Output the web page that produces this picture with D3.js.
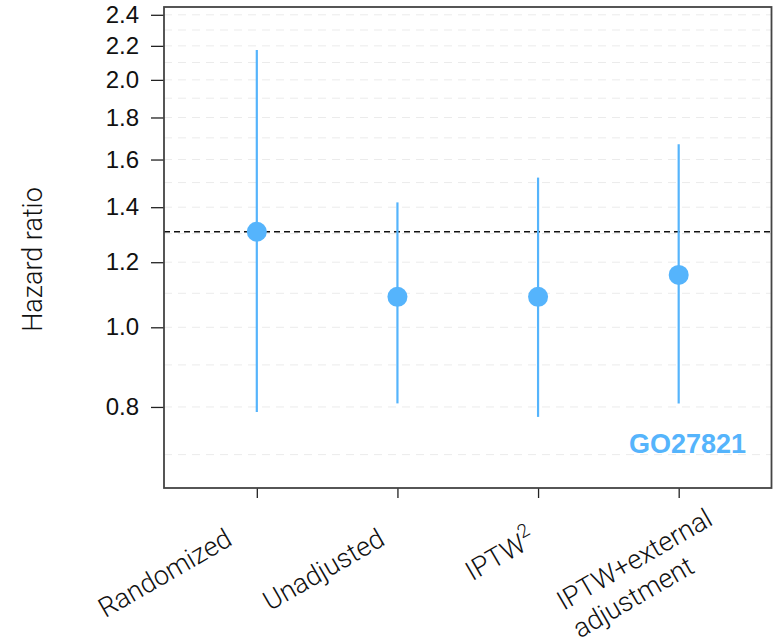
<!DOCTYPE html>
<html lang="en">
	<head>
		<meta charset="utf-8">
		<title>Hazard ratio by method</title>
		<script src="https://d3js.org/d3.v7.min.js"></script>
		<style type="text/css">
			body {
				margin: 0;
				background: #ffffff;
			}
			text {
				font-family: "Liberation Sans", Arial, sans-serif;
				fill: #111;
			}
			.cat-label, .axis-title {
				font-family: Roboto, "Liberation Sans", sans-serif;
				font-weight: 300;
				font-size: 27px;
			}
		</style>
	</head>
	<body>
		<script type="text/javascript">
			// Width and height
			var w = 773;
			var h = 642;
			var margin = {top: 7, right: 1.5, bottom: 154, left: 164};

			// Data: hazard ratio estimates with confidence limits
			var categories = ["Randomized", "Unadjusted", "IPTW^2", "IPTW+external|adjustment"];
			var estimates = [1.307, 1.089, 1.089, 1.158];
			var lower = [0.789, 0.808, 0.778, 0.808];
			var upper = [2.174, 1.419, 1.521, 1.670];
			var yTicks = [0.8, 1.0, 1.2, 1.4, 1.6, 1.8, 2.0, 2.2, 2.4];
			var gridValues = [0.7, 0.8, 0.9, 1.0, 1.1, 1.2, 1.3, 1.4, 1.5, 1.6, 1.7, 1.8, 1.9, 2.0, 2.1, 2.2, 2.3, 2.4];
			var referenceHR = 1.307;
			var studyLabel = "GO27821";

			var blue = "#55b4fc";
			// per-label horizontal nudge of the rotated category labels
			var labelNudge = [-23, -11, -1, 47];

			// Scales
			var xScale = d3.scalePoint()
				.domain(categories)
				.range([margin.left, w - margin.right])
				.padding(0.66);

			var yScale = d3.scaleLog()
				.domain([0.6375, 2.453])
				.range([h - margin.bottom, margin.top]);

			var svg = d3.select("body")
				.append("svg")
				.attr("width", w)
				.attr("height", h);

			// Light dashed grid lines
			svg.append("g")
				.selectAll("line")
				.data(gridValues)
				.enter()
				.append("line")
				.attr("x1", margin.left)
				.attr("x2", w - margin.right)
				.attr("y1", function(d) { return yScale(d); })
				.attr("y2", function(d) { return yScale(d); })
				.attr("stroke", "#ebebeb")
				.attr("stroke-width", 1)
				.attr("stroke-dasharray", "8,6");

			// Reference line at randomized estimate
			svg.append("line")
				.attr("x1", margin.left)
				.attr("x2", w - margin.right)
				.attr("y1", yScale(referenceHR))
				.attr("y2", yScale(referenceHR))
				.attr("stroke", "#111")
				.attr("stroke-width", 1.3)
				.attr("stroke-dasharray", "6,4");

			// Y axis
			var yAxis = d3.axisLeft(yScale)
				.tickValues(yTicks)
				.tickFormat(d3.format(".1f"))
				.tickSize(13)
				.tickPadding(12);

			var gy = svg.append("g")
				.attr("transform", "translate(" + margin.left + ",0)")
				.call(yAxis);
			gy.select(".domain").remove();
			gy.selectAll(".tick line").attr("stroke", "#222").attr("stroke-width", 1.3);
			gy.selectAll(".tick text")
				.attr("fill", "#111")
				.style("font-size", "24px")
				.style("font-family", "\"Liberation Sans\", Arial, sans-serif");

			// X axis ticks
			var xAxis = d3.axisBottom(xScale)
				.tickSize(10)
				.tickFormat("");

			var gx = svg.append("g")
				.attr("transform", "translate(0," + (h - margin.bottom) + ")")
				.call(xAxis);
			gx.select(".domain").remove();
			gx.selectAll(".tick line").attr("stroke", "#222").attr("stroke-width", 1.3);

			// Plot frame
			svg.append("rect")
				.attr("x", margin.left)
				.attr("y", margin.top)
				.attr("width", w - margin.right - margin.left)
				.attr("height", h - margin.bottom - margin.top)
				.attr("fill", "none")
				.attr("stroke", "#444")
				.attr("stroke-width", 1.8);

			// Confidence interval segments
			svg.selectAll("line.ci")
				.data(categories)
				.enter()
				.append("line")
				.attr("class", "ci")
				.attr("x1", function(d) { return xScale(d); })
				.attr("x2", function(d) { return xScale(d); })
				.attr("y1", function(d, i) { return yScale(lower[i]); })
				.attr("y2", function(d, i) { return yScale(upper[i]); })
				.attr("stroke", blue)
				.attr("stroke-width", 2.2);

			// Point estimates
			svg.selectAll("circle.est")
				.data(categories)
				.enter()
				.append("circle")
				.attr("class", "est")
				.attr("cx", function(d) { return xScale(d); })
				.attr("cy", function(d, i) { return yScale(estimates[i]); })
				.attr("r", 10)
				.attr("fill", blue);

			// Study label
			svg.append("text")
				.attr("x", 746)
				.attr("y", yScale(0.703))
				.attr("text-anchor", "end")
				.style("font-size", "27px")
				.style("font-weight", "bold")
				.style("fill", blue)
				.text(studyLabel);

			// Y axis title
			svg.append("text")
				.attr("class", "axis-title")
				.attr("transform", "translate(42," + ((h - margin.bottom + margin.top) / 2 + 12) + ") rotate(-90)")
				.attr("text-anchor", "middle")
				.text("Hazard ratio");

			// Rotated category labels
			var labels = svg.selectAll("g.cat")
				.data(categories)
				.enter()
				.append("g")
				.attr("class", "cat")
				.attr("transform", function(d, i) {
					return "translate(" + (xScale(d) + labelNudge[i]) + "," + (h - margin.bottom + 56) + ") rotate(-30)";
				});

			labels.each(function(d) {
				var g = d3.select(this);
				var lines = d.split("|");
				var lineGap = 32;
				var t = g.append("text").attr("class", "cat-label");
				var spans = [];
				lines.forEach(function(line, li) {
					var parts = line.split("^");
					var s = t.append("tspan")
						.attr("x", 0)
						.attr("y", li * lineGap - (lines.length - 1) * 23)
						.text(parts[0]);
					spans.push(s);
					if (parts.length > 1) {
						t.append("tspan")
							.attr("dy", -12)
							.style("font-size", "19px")
							.text(parts[1]);
					}
				});
				var widths = spans.map(function(s) { return s.node().getComputedTextLength(); });
				var maxW = d3.max(widths);
				if (lines.length === 1) {
					t.attr("text-anchor", "end");
				} else {
					// lines share the left edge, widest ends at the anchor
					spans.forEach(function(s) {
						s.attr("x", -maxW);
					});
				}
			});
		</script>
	</body>
</html>
